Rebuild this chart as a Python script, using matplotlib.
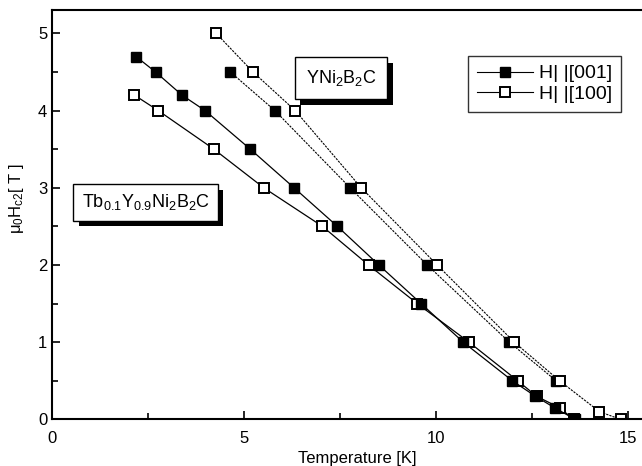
import matplotlib
matplotlib.use("Agg")
import matplotlib.pyplot as plt
import matplotlib.patheffects as pe

plt.rcParams["font.family"] = "Liberation Sans"
plt.rcParams["mathtext.default"] = "regular"

# Tb0.1Y0.9Ni2B2C
tb_001_t = [2.19, 2.70, 3.39, 3.99, 5.17, 6.31, 7.44, 8.52, 9.62, 10.72, 12.0, 12.6, 13.1, 13.64]
tb_001_h = [4.7, 4.5, 4.2, 4.0, 3.5, 3.0, 2.5, 2.0, 1.5, 1.0, 0.5, 0.3, 0.15, 0.0]
tb_100_t = [2.15, 2.77, 4.22, 5.52, 7.05, 8.25, 9.52, 10.87, 12.14, 12.63, 13.23, 13.6]
tb_100_h = [4.2, 4.0, 3.5, 3.0, 2.5, 2.0, 1.5, 1.0, 0.5, 0.3, 0.15, 0.0]

# YNi2B2C
y_001_t = [4.65, 5.81, 7.77, 9.78, 11.92, 13.14]
y_001_h = [4.5, 4.0, 3.0, 2.0, 1.0, 0.5]
y_100_t = [4.28, 5.24, 6.34, 8.06, 10.04, 12.05, 13.23, 14.27, 14.82]
y_100_h = [5.0, 4.5, 4.0, 3.0, 2.0, 1.0, 0.5, 0.1, 0.0]

fig = plt.figure(figsize=(6.42, 4.66), dpi=100)
ax = fig.add_axes([0.081, 0.1, 0.952, 0.878])

filled = dict(marker="s", markersize=7, markerfacecolor="black", markeredgecolor="black", color="black")
hollow = dict(marker="s", markersize=7, markerfacecolor="white", markeredgecolor="black",
              markeredgewidth=1.4, color="black")

ax.plot(tb_100_t, tb_100_h, lw=0.9, zorder=2, **hollow)
ax.plot(tb_001_t, tb_001_h, lw=0.9, zorder=3, **filled)
ax.plot(y_001_t, y_001_h, lw=0.8, dashes=(2, 1), zorder=2, **filled)
ax.plot(y_100_t, y_100_h, lw=0.8, dashes=(2, 1), zorder=2, **hollow)

ax.set_xlim(0, 15.93)
ax.set_ylim(0, 5.3)
ax.set_xticks([0, 5, 10, 15])
ax.set_xticks([2.5, 7.5, 12.5], minor=True)
ax.set_yticks([0, 1, 2, 3, 4, 5])
ax.set_yticks([0.5, 1.5, 2.5, 3.5, 4.5], minor=True)
ax.tick_params(which="both", direction="in", labelsize=12, width=1.2)
ax.tick_params(which="major", length=6)
ax.tick_params(axis="x", pad=8)
ax.tick_params(which="minor", length=4)
for spine in ax.spines.values():
    spine.set_linewidth(1.5)

ax.set_xlabel("Temperature [K]", fontsize=12, labelpad=4)
ax.set_ylabel(r"$\mu_0H_{c2}$[ T ]", fontsize=12)
ax.yaxis.set_label_coords(-0.042, 0.54)

legend_lines = [
    plt.Line2D([0], [0], lw=0.8, **filled),
    plt.Line2D([0], [0], lw=0.8, **hollow),
]
leg = ax.legend(legend_lines, ["H| |[001]", "H| |[100]"], loc="upper left",
                bbox_to_anchor=(0.665, 0.912), fontsize=14, frameon=True, fancybox=False,
                handlelength=2.9, handletextpad=0.3, borderpad=0.45, labelspacing=0.15)
leg.get_frame().set_edgecolor("black")
leg.get_frame().set_linewidth(1.0)

box = dict(boxstyle="square,pad=0.45", facecolor="white", edgecolor="black", linewidth=1.0)
shadow = [pe.SimplePatchShadow(offset=(4, -4), shadow_rgbFace="black", alpha=1.0), pe.Normal()]

t1 = ax.text(2.44, 2.81, r"Tb$_{0.1}$Y$_{0.9}$Ni$_2$B$_2$C", fontsize=13, ha="center", va="center", bbox=box)
t2 = ax.text(7.53, 4.42, r"YNi$_2$B$_2$C", fontsize=13, ha="center", va="center",
             bbox=dict(box, boxstyle="square,pad=0.6"))
for t in (t1, t2):
    t.get_bbox_patch().set_path_effects(shadow)

fig.savefig("out.png", dpi=100)
